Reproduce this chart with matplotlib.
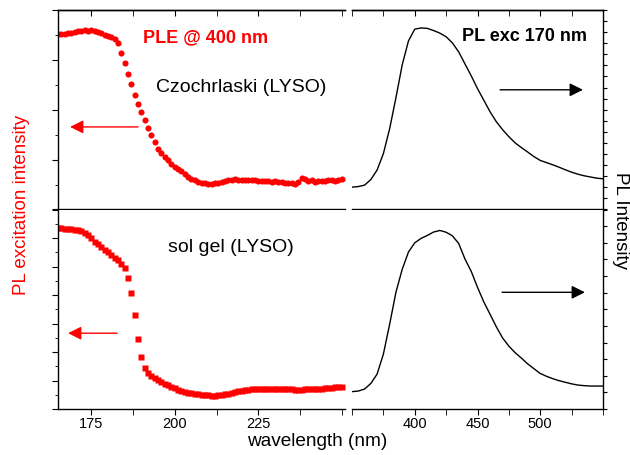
import matplotlib
matplotlib.use("Agg")
import matplotlib.pyplot as plt
from matplotlib.ticker import MultipleLocator, NullFormatter, FixedLocator
import numpy as np

plt.rcParams['font.family'] = ['Liberation Sans', 'DejaVu Sans']

# ---------------- data ----------------
ple_wl = list(range(165, 251))  # nm, 1 nm steps
ple_czochralski = [
    0.880, 0.882, 0.880, 0.884, 0.887, 0.889, 0.893, 0.895, 0.900, 0.896,
    0.902, 0.893, 0.889, 0.884, 0.876, 0.870, 0.866, 0.855, 0.833, 0.782,
    0.732, 0.678, 0.627, 0.573, 0.531, 0.489, 0.447, 0.409, 0.372, 0.338,
    0.305, 0.284, 0.263, 0.246, 0.230, 0.215, 0.203, 0.191, 0.178, 0.165,
    0.154, 0.146, 0.139, 0.134, 0.131, 0.129, 0.129, 0.131, 0.134, 0.138,
    0.142, 0.146, 0.149, 0.151, 0.150, 0.148, 0.149, 0.147, 0.146, 0.147,
    0.145, 0.144, 0.145, 0.142, 0.140, 0.141, 0.138, 0.137, 0.134, 0.135,
    0.131, 0.128, 0.140, 0.158, 0.152, 0.143, 0.146, 0.140, 0.143, 0.145,
    0.141, 0.146, 0.148, 0.145, 0.150, 0.151,
]
ple_solgel = [
    0.907, 0.905, 0.904, 0.902, 0.900, 0.899, 0.896, 0.890, 0.883, 0.872,
    0.855, 0.835, 0.825, 0.810, 0.798, 0.785, 0.772, 0.758, 0.745, 0.725,
    0.705, 0.655, 0.580, 0.470, 0.350, 0.262, 0.205, 0.180, 0.165, 0.155,
    0.146, 0.137, 0.127, 0.118, 0.110, 0.103, 0.097, 0.092, 0.087, 0.082,
    0.079, 0.076, 0.073, 0.071, 0.069, 0.068, 0.067, 0.067, 0.068, 0.070,
    0.073, 0.076, 0.080, 0.084, 0.088, 0.091, 0.094, 0.097, 0.099, 0.100,
    0.101, 0.102, 0.102, 0.101, 0.100, 0.099, 0.099, 0.098, 0.098, 0.098,
    0.098, 0.097, 0.097, 0.097, 0.098, 0.098, 0.098, 0.099, 0.100, 0.102,
    0.103, 0.104, 0.106, 0.108, 0.110, 0.112,
]

pl_wl = list(range(350, 551, 5))  # nm, 5 nm steps
pl_czochralski = [
    0.112, 0.115, 0.122, 0.150, 0.198, 0.280, 0.405, 0.560, 0.725, 0.845,
    0.904, 0.910, 0.908, 0.897, 0.884, 0.866, 0.835, 0.790, 0.730, 0.670,
    0.606, 0.548, 0.490, 0.440, 0.400, 0.365, 0.334, 0.310, 0.288, 0.265,
    0.246, 0.235, 0.224, 0.212, 0.199, 0.187, 0.177, 0.169, 0.163, 0.157,
    0.154,
]
pl_solgel = [
    0.087, 0.090, 0.100, 0.128, 0.175, 0.275, 0.425, 0.585, 0.700, 0.787,
    0.833, 0.855, 0.870, 0.887, 0.895, 0.886, 0.868, 0.830, 0.752, 0.690,
    0.610, 0.537, 0.475, 0.412, 0.356, 0.315, 0.282, 0.255, 0.226, 0.202,
    0.178, 0.164, 0.152, 0.142, 0.134, 0.126, 0.120, 0.117, 0.115, 0.115,
    0.115,
]

left_ticks = [175, 200, 225]
right_ticks = [400, 450, 500]

# ---------------- figure ----------------
W, H = 630, 455
fig = plt.figure(figsize=(W / 100, H / 100), dpi=100)

def px_axes(x0, y0, x1, y1):
    return fig.add_axes([x0 / W, 1 - y1 / H, (x1 - x0) / W, (y1 - y0) / H])

ax_tl = px_axes(58, 10, 345, 209.5)
ax_tr = px_axes(352, 10, 603, 209.5)
ax_bl = px_axes(58, 209.5, 345, 409)
ax_br = px_axes(352, 209.5, 603, 409)

red = '#ff0000'

ax_tl.plot(ple_wl, ple_czochralski, 'o', color=red, ms=4.4, mec='none')
ax_bl.plot(ple_wl, ple_solgel, 's', color=red, ms=3.7, mec='none')
ax_tr.plot(pl_wl, pl_czochralski, '-', color='black', lw=1.0)
ax_br.plot(pl_wl, pl_solgel, '-', color='black', lw=1.0)

for ax in (ax_tl, ax_bl):
    ax.set_xlim(165, 251)
    ax.spines['right'].set_visible(False)
    ax.xaxis.set_major_locator(FixedLocator(left_ticks))
    ax.xaxis.set_minor_locator(MultipleLocator(12.5))
for ax in (ax_tr, ax_br):
    ax.set_xlim(350, 550)
    ax.spines['left'].set_visible(False)
    ax.xaxis.set_major_locator(FixedLocator(right_ticks))
    ax.xaxis.set_minor_locator(MultipleLocator(25))
    ax.yaxis.tick_right()

for ax in (ax_tl, ax_tr, ax_bl, ax_br):
    ax.set_ylim(0, 1)
    for s in ax.spines.values():
        s.set_linewidth(1.0)
    ax.yaxis.set_major_formatter(NullFormatter())
    ax.yaxis.set_minor_formatter(NullFormatter())

# top panels: bottom ticks out (no labels), top ticks in
for ax, maj, mnr in ((ax_tl, left_ticks, 12.5), (ax_tr, right_ticks, 25)):
    ax.tick_params(axis='x', which='both', top=False, bottom=True,
                   labelbottom=False, direction='out', length=4)
    sec = ax.secondary_xaxis('top')
    sec.xaxis.set_major_locator(FixedLocator(maj))
    sec.xaxis.set_minor_locator(MultipleLocator(mnr))
    sec.tick_params(axis='x', which='both', direction='in', length=4,
                    labeltop=False)
    sec.spines['top'].set_linewidth(1.0)
# bottom panels: ticks on bottom (out) with labels
for ax in (ax_bl, ax_br):
    ax.spines['top'].set_visible(False)
    ax.tick_params(axis='x', which='both', top=False, bottom=True,
                   direction='out', labelsize=10.5, pad=2, length=4)

ax_tl.yaxis.set_major_locator(MultipleLocator(0.25))
ax_tl.yaxis.set_minor_locator(MultipleLocator(0.125))
ax_bl.yaxis.set_major_locator(MultipleLocator(1 / 7))
ax_bl.yaxis.set_minor_locator(MultipleLocator(1 / 14))
for ax in (ax_tl, ax_bl):
    ax.tick_params(axis='y', which='major', direction='out', length=4)
    ax.tick_params(axis='y', which='minor', direction='out', length=2)

ax_tr.yaxis.set_major_locator(MultipleLocator(1 / 18))
ax_br.yaxis.set_major_locator(MultipleLocator(1 / 12))
for ax in (ax_tr, ax_br):
    ax.tick_params(axis='y', which='major', direction='out', length=3,
                   left=False, right=True)

# arrows
arrow_kw = dict(arrowstyle='-|>', lw=1.0, mutation_scale=20, shrinkA=0, shrinkB=0)
ax_tl.annotate('', xy=(0.042, 0.414), xytext=(0.279, 0.414), xycoords='axes fraction',
               arrowprops=dict(color=red, **arrow_kw))
ax_bl.annotate('', xy=(0.035, 0.38), xytext=(0.206, 0.38), xycoords='axes fraction',
               arrowprops=dict(color=red, **arrow_kw))
ax_tr.annotate('', xy=(0.92, 0.6), xytext=(0.59, 0.6), xycoords='axes fraction',
               arrowprops=dict(color='black', **arrow_kw))
ax_br.annotate('', xy=(0.928, 0.585), xytext=(0.598, 0.585), xycoords='axes fraction',
               arrowprops=dict(color='black', **arrow_kw))

# texts
ax_tl.text(0.296, 0.86, 'PLE @ 400 nm', transform=ax_tl.transAxes, color=red,
           fontsize=13, fontweight='bold', ha='left', va='center')
ax_tl.text(0.341, 0.614, 'Czochrlaski (LYSO)', transform=ax_tl.transAxes,
           color='black', fontsize=14, ha='left', va='center')
ax_tr.text(0.437, 0.866, 'PL exc 170 nm', transform=ax_tr.transAxes, color='black',
           fontsize=13, fontweight='bold', ha='left', va='center')
ax_bl.text(0.383, 0.81, 'sol gel (LYSO)', transform=ax_bl.transAxes,
           color='black', fontsize=14, ha='left', va='center')

fig.text(317 / W, 1 - 441 / H, 'wavelength (nm)', fontsize=13.7, ha='center', va='center')
fig.text(22 / W, 1 - 205 / H, 'PL excitation intensity', fontsize=13.5, color=red,
         rotation=90, ha='center', va='center')
fig.text(621 / W, 1 - 221 / H, 'PL Intensity', fontsize=13.5, color='black',
         rotation=-90, ha='center', va='center')

fig.savefig('out.png', dpi=100)
